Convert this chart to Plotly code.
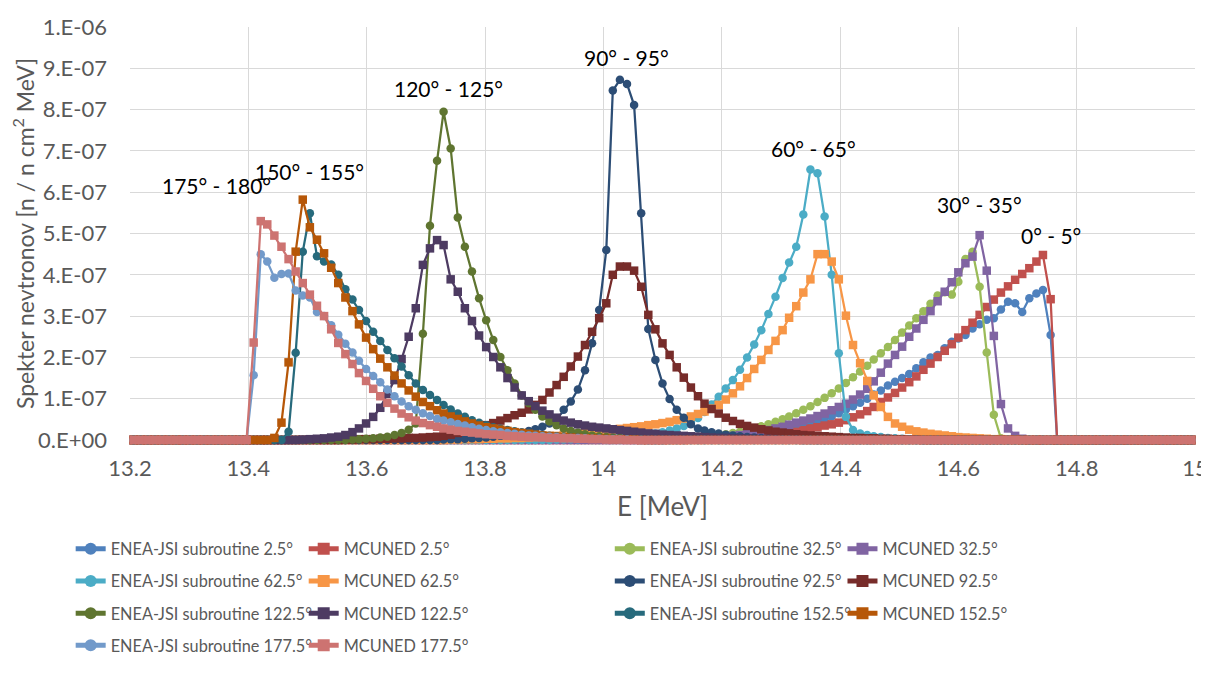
import plotly.graph_objects as go

# Energy grid [MeV] (bin mid-points)
E_MEV = [
    13.206, 13.218, 13.230, 13.242, 13.254, 13.266, 13.278, 13.289, 13.301, 13.313,
    13.325, 13.337, 13.349, 13.361, 13.373, 13.385, 13.397, 13.409, 13.421, 13.432,
    13.444, 13.456, 13.468, 13.480, 13.492, 13.504, 13.516, 13.528, 13.540, 13.552,
    13.564, 13.576, 13.587, 13.599, 13.611, 13.623, 13.635, 13.647, 13.659, 13.671,
    13.683, 13.695, 13.707, 13.719, 13.730, 13.742, 13.754, 13.766, 13.778, 13.790,
    13.802, 13.814, 13.826, 13.838, 13.850, 13.862, 13.874, 13.885, 13.897, 13.909,
    13.921, 13.933, 13.945, 13.957, 13.969, 13.981, 13.993, 14.005, 14.016, 14.028,
    14.040, 14.052, 14.064, 14.076, 14.088, 14.100, 14.112, 14.124, 14.136, 14.148,
    14.160, 14.171, 14.183, 14.195, 14.207, 14.219, 14.231, 14.243, 14.255, 14.267,
    14.279, 14.291, 14.303, 14.314, 14.326, 14.338, 14.350, 14.362, 14.374, 14.386,
    14.398, 14.410, 14.422, 14.434, 14.446, 14.457, 14.469, 14.481, 14.493, 14.505,
    14.517, 14.529, 14.541, 14.553, 14.565, 14.577, 14.589, 14.600, 14.612, 14.624,
    14.636, 14.648, 14.660, 14.672, 14.684, 14.696, 14.708, 14.720, 14.732, 14.743,
    14.756, 14.767, 14.779, 14.791, 14.803, 14.815, 14.827, 14.839, 14.851, 14.863,
    14.875, 14.886, 14.898, 14.910, 14.922, 14.934, 14.946, 14.958, 14.970, 14.982,
    14.994,
]

# Spectra in units of 1e-7 n/(n cm2 MeV); each list starts at the given grid index,
# all other bins are zero.
ENEA_2_5_START = 75
ENEA_2_5 = [0.01, 0.01, 0.02, 0.02, 0.03, 0.03, 0.04, 0.05, 0.06, 0.07,
            0.08, 0.09, 0.11, 0.12, 0.14, 0.16, 0.18, 0.21, 0.25, 0.29,
            0.33, 0.38, 0.44, 0.5, 0.57, 0.65, 0.74, 0.82, 0.9, 1.0,
            1.1, 1.2, 1.32, 1.41, 1.5, 1.6, 1.74, 1.88, 2.0, 2.06,
            2.22, 2.38, 2.46, 2.54, 2.7, 2.8, 2.91, 2.95, 3.16, 3.35,
            3.31, 3.1, 3.43, 3.55, 3.63, 2.54]
MCUNED_2_5_START = 79
MCUNED_2_5 = [0.01, 0.01, 0.02, 0.02, 0.03, 0.03, 0.04, 0.05, 0.06, 0.07,
              0.08, 0.1, 0.12, 0.14, 0.17, 0.2, 0.24, 0.28, 0.31, 0.35,
              0.38, 0.42, 0.48, 0.55, 0.62, 0.7, 0.8, 0.92, 1.03, 1.14,
              1.27, 1.4, 1.54, 1.7, 1.85, 2.01, 2.16, 2.32, 2.48, 2.66,
              2.84, 3.03, 3.22, 3.4, 3.57, 3.72, 3.88, 4.02, 4.16, 4.32,
              4.48, 3.41]
ENEA_32_5_START = 72
ENEA_32_5 = [0.01, 0.01, 0.02, 0.02, 0.03, 0.04, 0.05, 0.06, 0.07, 0.08,
             0.1, 0.12, 0.14, 0.17, 0.2, 0.24, 0.28, 0.33, 0.38, 0.44,
             0.5, 0.57, 0.65, 0.73, 0.82, 0.92, 1.02, 1.13, 1.25, 1.38,
             1.52, 1.66, 1.8, 1.95, 2.1, 2.25, 2.42, 2.6, 2.77, 2.95,
             3.12, 3.3, 3.5, 3.58, 3.52, 3.83, 4.38, 4.56, 3.71, 2.12,
             0.61, 0.04]
MCUNED_32_5_START = 76
MCUNED_32_5 = [0.01, 0.02, 0.02, 0.03, 0.04, 0.05, 0.06, 0.07, 0.08, 0.1,
               0.12, 0.14, 0.17, 0.2, 0.24, 0.28, 0.32, 0.37, 0.42, 0.47,
               0.52, 0.58, 0.64, 0.72, 0.8, 0.88, 0.98, 1.1, 1.24, 1.42,
               1.63, 1.85, 2.06, 2.26, 2.5, 2.7, 2.91, 3.12, 3.36, 3.59,
               3.82, 4.06, 4.28, 4.44, 4.96, 4.1, 2.52, 0.87, 0.28, 0.1,
               0.03]
ENEA_62_5_START = 60
ENEA_62_5 = [0.01, 0.01, 0.02, 0.02, 0.03, 0.03, 0.04, 0.05, 0.06, 0.07,
             0.08, 0.1, 0.12, 0.14, 0.16, 0.19, 0.23, 0.28, 0.34, 0.42,
             0.53, 0.68, 0.86, 1.05, 1.25, 1.45, 1.7, 2.0, 2.31, 2.66,
             3.05, 3.47, 3.92, 4.3, 4.68, 5.46, 6.55, 6.46, 5.41, 4.0,
             2.1, 0.56, 0.24, 0.16, 0.12, 0.09, 0.07, 0.05, 0.04, 0.03,
             0.02, 0.02, 0.01]
MCUNED_62_5_START = 45
MCUNED_62_5 = [0.01, 0.01, 0.02, 0.02, 0.02, 0.03, 0.03, 0.04, 0.04, 0.05,
               0.05, 0.06, 0.07, 0.08, 0.09, 0.1, 0.12, 0.13, 0.15, 0.17,
               0.19, 0.21, 0.23, 0.25, 0.27, 0.29, 0.31, 0.33, 0.36, 0.38,
               0.41, 0.44, 0.48, 0.52, 0.57, 0.63, 0.69, 0.76, 0.85, 0.98,
               1.13, 1.3, 1.5, 1.72, 1.94, 2.18, 2.4, 2.66, 2.96, 3.24,
               3.57, 3.89, 4.5, 4.5, 4.32, 3.89, 3.01, 2.3, 1.86, 1.43,
               1.08, 0.8, 0.56, 0.4, 0.32, 0.25, 0.21, 0.18, 0.15, 0.13,
               0.11, 0.09, 0.07, 0.06, 0.05, 0.04, 0.03, 0.02, 0.02, 0.01,
               0.01]
ENEA_92_5_START = 44
ENEA_92_5 = [0.01, 0.02, 0.02, 0.03, 0.04, 0.05, 0.06, 0.08, 0.1, 0.12,
             0.15, 0.18, 0.22, 0.26, 0.32, 0.4, 0.5, 0.73, 0.93, 1.22,
             1.69, 2.34, 3.15, 4.6, 8.46, 8.72, 8.62, 8.11, 5.49, 2.69,
             1.94, 1.37, 0.99, 0.73, 0.54, 0.38, 0.28, 0.23, 0.19, 0.16,
             0.13, 0.11, 0.09, 0.07, 0.06, 0.05, 0.04, 0.03, 0.03, 0.02,
             0.02, 0.01, 0.01]
MCUNED_92_5_START = 30
MCUNED_92_5 = [0.01, 0.01, 0.02, 0.02, 0.02, 0.03, 0.03, 0.04, 0.04, 0.05,
               0.05, 0.06, 0.07, 0.08, 0.1, 0.13, 0.17, 0.21, 0.26, 0.31,
               0.36, 0.41, 0.47, 0.53, 0.6, 0.66, 0.74, 0.85, 0.97, 1.15,
               1.33, 1.53, 1.78, 2.02, 2.3, 2.62, 2.95, 3.31, 4.0, 4.2,
               4.2, 4.1, 3.71, 3.03, 2.68, 2.34, 2.06, 1.76, 1.51, 1.27,
               1.06, 0.88, 0.75, 0.64, 0.54, 0.46, 0.39, 0.34, 0.3, 0.26,
               0.23, 0.2, 0.18, 0.16, 0.14, 0.12, 0.11, 0.1, 0.09, 0.08,
               0.07, 0.06, 0.05, 0.05, 0.04, 0.04, 0.03, 0.03, 0.02, 0.02,
               0.01, 0.01]
ENEA_122_5_START = 31
ENEA_122_5 = [0.01, 0.02, 0.03, 0.04, 0.06, 0.08, 0.12, 0.17, 0.25, 0.4,
              2.57, 5.19, 6.76, 7.95, 7.06, 5.39, 4.68, 4.08, 3.43, 2.9,
              2.42, 2.01, 1.69, 1.37, 1.08, 0.89, 0.73, 0.57, 0.45, 0.36,
              0.28, 0.22, 0.18, 0.14, 0.11, 0.09, 0.07, 0.06, 0.05, 0.04,
              0.03, 0.02, 0.02, 0.01]
MCUNED_122_5_START = 24
MCUNED_122_5 = [0.01, 0.02, 0.03, 0.04, 0.06, 0.08, 0.12, 0.19, 0.28, 0.4,
                0.56, 0.78, 1.12, 1.45, 1.96, 2.5, 3.19, 4.24, 4.64, 4.84,
                4.72, 3.89, 3.59, 3.19, 2.88, 2.53, 2.25, 2.01, 1.76, 1.5,
                1.27, 1.08, 0.94, 0.82, 0.71, 0.62, 0.54, 0.47, 0.42, 0.38,
                0.35, 0.32, 0.3, 0.28, 0.26, 0.24, 0.22, 0.2, 0.18, 0.16,
                0.15, 0.13, 0.12, 0.11, 0.1, 0.09, 0.08, 0.07, 0.06, 0.05,
                0.05, 0.04, 0.04, 0.03, 0.03, 0.02, 0.02, 0.02, 0.01, 0.01,
                0.01]
ENEA_152_5_START = 22
ENEA_152_5 = [0.2, 2.11, 4.56, 5.49, 4.45, 4.32, 4.25, 4.0, 3.65, 3.4,
              3.15, 2.88, 2.62, 2.4, 2.18, 1.98, 1.78, 1.57, 1.37, 1.21,
              1.09, 0.97, 0.85, 0.74, 0.64, 0.56, 0.48, 0.42, 0.36, 0.31,
              0.27, 0.24, 0.21, 0.18, 0.16, 0.14, 0.12, 0.1, 0.09, 0.08,
              0.07, 0.06, 0.05, 0.04, 0.04, 0.03, 0.03, 0.02, 0.02, 0.02,
              0.01]
MCUNED_152_5_START = 20
MCUNED_152_5 = [0.05, 0.42, 1.88, 4.56, 5.82, 5.15, 4.85, 4.52, 4.17, 3.8,
                3.45, 3.12, 2.8, 2.48, 2.2, 1.97, 1.76, 1.56, 1.37, 1.2,
                1.05, 0.92, 0.82, 0.72, 0.64, 0.57, 0.51, 0.45, 0.4, 0.35,
                0.31, 0.28, 0.25, 0.22, 0.19, 0.17, 0.15, 0.13, 0.11, 0.1,
                0.08, 0.07, 0.06, 0.05, 0.04, 0.04, 0.03, 0.03, 0.02, 0.02,
                0.01, 0.01]
ENEA_177_5_START = 17
ENEA_177_5 = [1.57, 4.5, 4.32, 3.93, 4.02, 4.03, 3.62, 3.5, 3.45, 3.1,
              3.0, 2.78, 2.55, 2.33, 2.12, 1.92, 1.72, 1.55, 1.4, 1.22,
              1.06, 0.93, 0.82, 0.73, 0.65, 0.58, 0.51, 0.47, 0.43, 0.39,
              0.35, 0.31, 0.27, 0.24, 0.21, 0.19, 0.17, 0.15, 0.13, 0.11,
              0.1, 0.09, 0.08, 0.07, 0.06, 0.05, 0.05, 0.04, 0.03, 0.03,
              0.02, 0.02, 0.01, 0.01]
MCUNED_177_5_START = 17
MCUNED_177_5 = [2.36, 5.3, 5.22, 4.95, 4.68, 4.38, 4.08, 3.8, 3.52, 3.25,
                3.0, 2.68, 2.35, 2.08, 1.84, 1.62, 1.43, 1.24, 1.06, 0.9,
                0.76, 0.64, 0.55, 0.47, 0.41, 0.36, 0.32, 0.28, 0.25, 0.22,
                0.2, 0.18, 0.16, 0.14, 0.13, 0.12, 0.1, 0.09, 0.08, 0.07,
                0.07, 0.06, 0.05, 0.05, 0.04, 0.04, 0.03, 0.03, 0.02, 0.02,
                0.01, 0.01, 0.01]

SERIES_NAMES = [
    "ENEA-JSI subroutine 2.5°", "MCUNED 2.5°",
    "ENEA-JSI subroutine 32.5°", "MCUNED 32.5°",
    "ENEA-JSI subroutine 62.5°", "MCUNED 62.5°",
    "ENEA-JSI subroutine 92.5°", "MCUNED 92.5°",
    "ENEA-JSI subroutine 122.5°", "MCUNED 122.5°",
    "ENEA-JSI subroutine 152.5°", "MCUNED 152.5°",
    "ENEA-JSI subroutine 177.5°", "MCUNED 177.5°",
]
SERIES_DATA = [
    (ENEA_2_5_START, ENEA_2_5), (MCUNED_2_5_START, MCUNED_2_5),
    (ENEA_32_5_START, ENEA_32_5), (MCUNED_32_5_START, MCUNED_32_5),
    (ENEA_62_5_START, ENEA_62_5), (MCUNED_62_5_START, MCUNED_62_5),
    (ENEA_92_5_START, ENEA_92_5), (MCUNED_92_5_START, MCUNED_92_5),
    (ENEA_122_5_START, ENEA_122_5), (MCUNED_122_5_START, MCUNED_122_5),
    (ENEA_152_5_START, ENEA_152_5), (MCUNED_152_5_START, MCUNED_152_5),
    (ENEA_177_5_START, ENEA_177_5), (MCUNED_177_5_START, MCUNED_177_5),
]
SERIES_COLORS = [
    "#4F81BD", "#C0504D", "#9BBB59", "#8064A2", "#4BACC6", "#F79646",
    "#2C4D75", "#772C2A", "#5F7530", "#4D3B62", "#276A7C", "#B65708",
    "#729ACA", "#CD7371",
]
# legend column for each series (Excel-like 4-column layout)
SERIES_LEGEND = ["legend", "legend2", "legend3", "legend4",
                 "legend", "legend2", "legend3", "legend4",
                 "legend", "legend2", "legend3", "legend4",
                 "legend", "legend2"]

PEAK_LABELS = ["175° - 180°", "150° - 155°", "120° - 125°", "90° - 95°",
               "60° - 65°", "30° - 35°", "0° - 5°"]
PEAK_LABEL_X = [13.3455, 13.503, 13.738, 14.039, 14.3555, 14.636, 14.756]
PEAK_LABEL_Y = [6.17e-7, 6.49e-7, 8.52e-7, 9.27e-7, 7.07e-7, 5.71e-7, 4.94e-7]

Y_TICKS = [0, 1e-7, 2e-7, 3e-7, 4e-7, 5e-7, 6e-7, 7e-7, 8e-7, 9e-7, 1e-6]
Y_TICK_TEXT = ["0.E+00", "1.E-07", "2.E-07", "3.E-07", "4.E-07", "5.E-07",
               "6.E-07", "7.E-07", "8.E-07", "9.E-07", "1.E-06"]

FONT = "Lato, Calibri, Carlito, sans-serif"
GREY = "#595959"


def full_series(start, vals):
    y = [0.0] * len(E_MEV)
    for i, v in enumerate(vals):
        y[start + i] = v * 1e-7
    return y


fig = go.Figure()
for idx, (name, (start, vals), color, leg) in enumerate(
        zip(SERIES_NAMES, SERIES_DATA, SERIES_COLORS, SERIES_LEGEND)):
    is_enea = name.startswith("ENEA")
    fig.add_trace(go.Scatter(
        x=E_MEV, y=full_series(start, vals), name=name,
        mode="lines+markers",
        line=dict(color=color, width=2.25),
        marker=dict(symbol="circle" if is_enea else "square",
                    size=8.5, color=color, line=dict(width=0)),
        cliponaxis=False,
        legend=leg, legendgroup="g%d" % idx,
    ))

for txt, x, y in zip(PEAK_LABELS, PEAK_LABEL_X, PEAK_LABEL_Y):
    fig.add_annotation(x=x, y=y, text=txt, showarrow=False,
                       font=dict(family=FONT, size=21, color="#000000"),
                       xanchor="center", yanchor="middle")

legend_common = dict(
    orientation="v", yanchor="top", xanchor="left", y=-0.222,
    font=dict(family=FONT, size=16.3, color=GREY),
    bgcolor="rgba(0,0,0,0)", borderwidth=0,
    tracegroupgap=8, traceorder="grouped", itemsizing="constant",
)
# The page body has an 8 px margin, so the figure is 8 px smaller than the window.
fig.update_layout(
    width=1201, height=669,
    paper_bgcolor="white", plot_bgcolor="white",
    margin=dict(l=122, r=14, t=19, b=237, autoexpand=False),
    showlegend=True,
    legend=dict(x=-0.0557, **legend_common),
    legend2=dict(x=0.1631, **legend_common),
    legend3=dict(x=0.4505, **legend_common),
    legend4=dict(x=0.6690, **legend_common),
    xaxis=dict(
        range=[13.2, 15.0], dtick=0.2, tick0=13.2, automargin=False,
        showgrid=True, gridcolor="#D9D9D9", gridwidth=1.3,
        zeroline=False, showline=False, ticks="",
        tickfont=dict(family=FONT, size=22, color=GREY),
        ticklabelstandoff=13,
        title=dict(text="E [MeV]", font=dict(family=FONT, size=26, color=GREY),
                   standoff=17),
    ),
    yaxis=dict(
        range=[0, 1e-6], tickvals=Y_TICKS, ticktext=Y_TICK_TEXT, automargin=False,
        showgrid=True, gridcolor="#D9D9D9", gridwidth=1.3,
        zeroline=False, showline=False, ticks="",
        tickfont=dict(family=FONT, size=22, color=GREY),
        ticklabelstandoff=22,
        title=dict(text="Spekter nevtronov [n / n cm<sup>2</sup> MeV]",
                   font=dict(family=FONT, size=23, color=GREY), standoff=6),
    ),
)

fig.write_html("out.html")
